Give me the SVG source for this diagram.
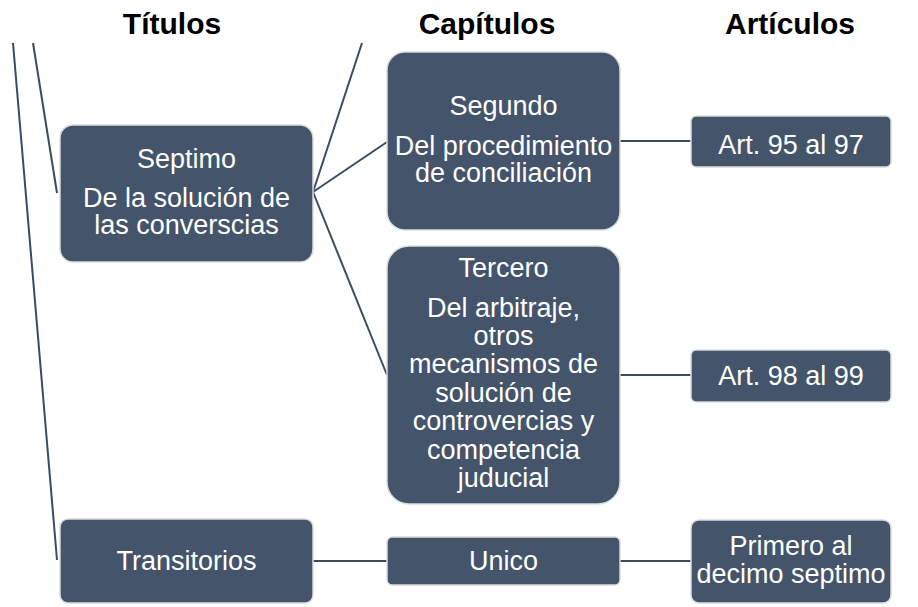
<svg xmlns="http://www.w3.org/2000/svg" width="918" height="607" viewBox="0 0 918 607">
<style>
.hdr{font-family:"Liberation Sans",Arial,sans-serif;font-weight:bold;font-size:30px;fill:#000;text-anchor:middle}
.box{fill:#44546A;stroke:#dcdcdc;stroke-width:1.5}
.t{font-family:"Liberation Sans",Arial,sans-serif;font-size:27px;fill:#fff;text-anchor:middle}
.c{stroke:#3d4b5f;stroke-width:2;fill:none}
</style>
<rect width="918" height="607" fill="#fff"/>
<g id="headers">
<text class="hdr" x="172" y="34">Títulos</text>
<text class="hdr" x="487" y="34">Capítulos</text>
<text class="hdr" x="790" y="34">Artículos</text>
</g>
<g id="connectors">
<line class="c" x1="13" y1="43" x2="57" y2="560"/>
<line class="c" x1="33" y1="43" x2="57" y2="193"/>
<line class="c" x1="313" y1="192" x2="362" y2="43"/>
<line class="c" x1="313" y1="192" x2="387" y2="142"/>
<line class="c" x1="313" y1="192" x2="387" y2="375"/>
<line class="c" x1="620" y1="141" x2="691" y2="141"/>
<line class="c" x1="620" y1="375" x2="691" y2="375"/>
<line class="c" x1="313" y1="561" x2="387" y2="561"/>
<line class="c" x1="620" y1="561" x2="691" y2="561"/>
</g>
<g id="septimo">
<rect class="box" x="60" y="125" width="253" height="137" rx="13"/>
<text class="t" x="186.5" y="168">Septimo</text>
<text class="t" x="186.5" y="207">De la solución de</text>
<text class="t" x="186.5" y="234">las converscias</text>
</g>
<g id="segundo">
<rect class="box" x="387" y="52" width="233" height="178" rx="18"/>
<text class="t" x="503.5" y="115">Segundo</text>
<text class="t" x="503.5" y="155">Del procedimiento</text>
<text class="t" x="503.5" y="182">de conciliación</text>
</g>
<g id="tercero">
<rect class="box" x="387" y="246" width="233" height="258" rx="22"/>
<text class="t" x="503.5" y="277">Tercero</text>
<text class="t" x="503.5" y="317">Del arbitraje,</text>
<text class="t" x="503.5" y="345">otros</text>
<text class="t" x="503.5" y="373">mecanismos de</text>
<text class="t" x="503.5" y="402">solución de</text>
<text class="t" x="503.5" y="430">controvercias y</text>
<text class="t" x="503.5" y="459">competencia</text>
<text class="t" x="503.5" y="487">juducial</text>
</g>
<g id="art95">
<rect class="box" x="691" y="116" width="200" height="51" rx="5"/>
<text class="t" x="791" y="154">Art. 95 al 97</text>
</g>
<g id="art98">
<rect class="box" x="691" y="350" width="200" height="52" rx="5"/>
<text class="t" x="791" y="385">Art. 98 al 99</text>
</g>
<g id="transitorios">
<rect class="box" x="60" y="519" width="253" height="84" rx="8"/>
<text class="t" x="186.5" y="570">Transitorios</text>
</g>
<g id="unico">
<rect class="box" x="387" y="537" width="233" height="48" rx="5"/>
<text class="t" x="503.5" y="570">Unico</text>
</g>
<g id="primero">
<rect class="box" x="691" y="520" width="200" height="83" rx="8"/>
<text class="t" x="791" y="555">Primero al</text>
<text class="t" x="791" y="583">decimo septimo</text>
</g>
</svg>
